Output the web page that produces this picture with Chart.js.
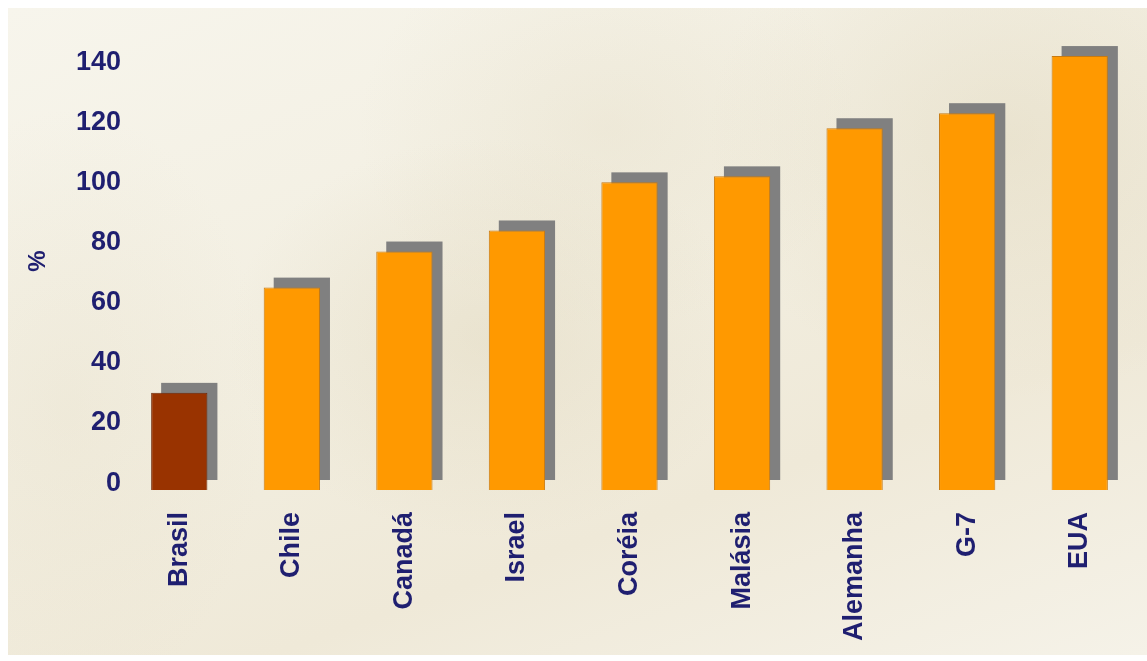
<!DOCTYPE html>
<html>
<head>
<meta charset="utf-8">
<title>Comparativo</title>
<script src="https://cdn.jsdelivr.net/npm/chart.js"></script>
<style>
    body {
        margin: 0;
        background: #ffffff;
        width: 1147px;
        height: 661px;
        overflow: hidden;
    }
    .fundo {
        position: absolute;
        left: 8px;
        top: 8px;
        width: 1139px;
        height: 647px;
        background:
            radial-gradient(ellipse 260px 200px at 480px 330px, rgba(215, 203, 170, 0.30), rgba(215, 203, 170, 0) 100%),
            radial-gradient(ellipse 300px 260px at 1000px 130px, rgba(215, 203, 170, 0.30), rgba(215, 203, 170, 0) 100%),
            radial-gradient(ellipse 250px 200px at 600px 120px, rgba(218, 207, 176, 0.22), rgba(218, 207, 176, 0) 100%),
            radial-gradient(ellipse 200px 300px at 60px 400px, rgba(225, 215, 188, 0.22), rgba(225, 215, 188, 0) 100%),
            linear-gradient(160deg, #f7f5ec 0%, #f2eee0 45%, #efe9d8 70%, #f5f2e8 100%);
    }
    .grafico {
        position: absolute;
        left: 0;
        top: 0;
        width: 1147px;
        height: 661px;
    }
</style>
</head>
<body>
<div class="fundo"></div>
<div class="grafico"><canvas id="chartPaises" width="1147" height="661"></canvas></div>

<script>
    // dados do gráfico
    const paises = ['Brasil', 'Chile', 'Canadá', 'Israel', 'Coréia', 'Malásia', 'Alemanha', 'G-7', 'EUA'];
    const valores = [30, 65, 77, 84, 100, 102, 118, 123, 142];
    const coresBarras = ['#993300', '#ff9900', '#ff9900', '#ff9900', '#ff9900', '#ff9900', '#ff9900', '#ff9900', '#ff9900'];
    const bordasBarras = ['#6e2a0a', '#c77a12', '#c77a12', '#c77a12', '#c77a12', '#c77a12', '#c77a12', '#c77a12', '#c77a12'];
    const ticksY = [0, 20, 40, 60, 80, 100, 120, 140];

    const corTexto = '#1f1f70';

    // sombra cinza deslocada atrás das barras (usa as posições calculadas pelo Chart.js)
    const sombraBarras = {
        id: 'sombraBarras',
        beforeDatasetDraw(chart, args) {
            const ctx = chart.ctx;
            const meta = chart.getDatasetMeta(args.index);
            ctx.save();
            ctx.fillStyle = '#808080';
            meta.data.forEach(barra => {
                const p = barra.getProps(['x', 'y', 'base', 'width'], true);
                ctx.fillRect(p.x - p.width / 2 + 10, p.y - 10, p.width, p.base - p.y);
            });
            ctx.restore();
        }
    };

    const ctxPaises = document.getElementById('chartPaises').getContext('2d');
    new Chart(ctxPaises, {
        type: 'bar',
        data: {
            labels: paises,
            datasets: [{
                data: valores,
                backgroundColor: coresBarras,
                borderColor: bordasBarras,
                borderWidth: 1,
                base: -2.3,
                barPercentage: 0.5,
                categoryPercentage: 1.0
            }]
        },
        options: {
            responsive: false,
            animation: false,
            maintainAspectRatio: false,
            layout: {
                padding: { left: 20, right: 11, top: 32, bottom: 0 }
            },
            plugins: {
                legend: { display: false },
                tooltip: { enabled: false }
            },
            scales: {
                x: {
                    grid: { display: false, drawTicks: false },
                    border: { display: false },
                    ticks: {
                        color: corTexto,
                        font: { family: 'Liberation Sans, Arial, sans-serif', size: 27, weight: 'bold' },
                        minRotation: 90,
                        maxRotation: 90,
                        autoSkip: false,
                        padding: 22
                    },
                    afterFit(scale) {
                        scale.height = 171;
                    }
                },
                y: {
                    min: -2.3,
                    max: 150,
                    grid: { display: false, drawTicks: false },
                    border: { display: false },
                    title: {
                        display: true,
                        text: '%',
                        color: corTexto,
                        font: { family: 'Liberation Sans, Arial, sans-serif', size: 24, weight: 'bold' },
                        padding: { top: 4, bottom: 0 }
                    },
                    ticks: {
                        color: corTexto,
                        font: { family: 'Liberation Sans, Arial, sans-serif', size: 27, weight: 'bold' },
                        padding: 2
                    },
                    afterBuildTicks(scale) {
                        scale.ticks = ticksY.map(v => ({ value: v }));
                    },
                    afterFit(scale) {
                        scale.width = 103;
                    }
                }
            }
        },
        plugins: [sombraBarras]
    });
</script>
</body>
</html>
